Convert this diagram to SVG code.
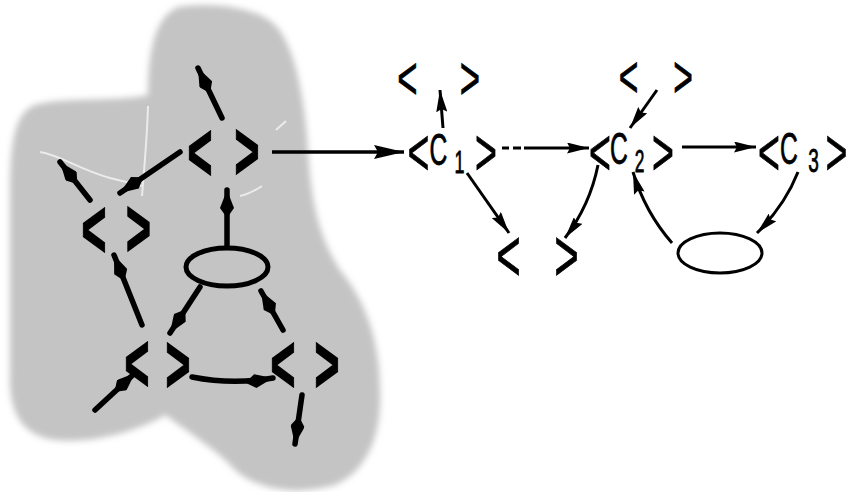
<svg xmlns="http://www.w3.org/2000/svg" width="857" height="492" viewBox="0 0 857 492">
<defs>
<style>
.lbl{font-family:"Liberation Sans",Arial,sans-serif;fill:#000;stroke:#000;stroke-width:0.8;text-anchor:middle}
.blb{font-weight:bold;stroke-width:1.6}
.c{stroke:#000;fill:none;stroke-width:3;marker-end:url(#ah)}
.cb{stroke:#000;fill:none;stroke-width:5.5;stroke-linecap:round;marker-end:url(#bh)}
.el{fill:none;stroke:#000}
.scr{fill:none;stroke:#f2f2f2;stroke-width:2;opacity:0.85}
</style>
<marker id="ah" viewBox="0 0 22 11" refX="22" refY="5.5" markerWidth="22" markerHeight="11" markerUnits="userSpaceOnUse" orient="auto"><path d="M0,0 L22,5.5 L0,11 L3,5.5 Z" fill="#000"/></marker>
<marker id="ahL" viewBox="0 0 30 14" refX="30" refY="7" markerWidth="30" markerHeight="14" markerUnits="userSpaceOnUse" orient="auto"><path d="M0,0 L30,7 L0,14 L4,7 Z" fill="#000"/></marker>
<marker id="bh" viewBox="0 0 28 14" refX="28" refY="7" markerWidth="28" markerHeight="14" markerUnits="userSpaceOnUse" orient="auto"><path d="M0,7 L10,0 L28,7 L10,14 Z" fill="#000"/></marker>
<filter id="soft" x="-10%" y="-10%" width="120%" height="120%"><feGaussianBlur stdDeviation="3"/></filter>
</defs>

<g id="blob">
<path filter="url(#soft)" fill="#c4c4c4" d="M178,7 C205,2 255,5 275,25 C295,45 305,100 308,150 C311,200 318,235 340,270 C365,300 380,340 380,390 C382,430 370,470 335,485 C300,495 260,492 235,470 C222,455 200,440 165,415 C150,425 100,445 55,440 C20,435 8,410 10,370 L10,200 C10,150 12,118 32,106 C60,96 120,102 148,95 C148,60 152,18 178,7 Z"/>
<path class="scr" d="M40,152 C60,155 80,170 110,178 C125,182 135,184 142,186"/>
<path class="scr" d="M148,106 C147,140 144,170 142,196"/>
<path class="scr" d="M240,196 C250,194 256,190 262,186"/>
<path class="scr" d="M276,130 L286,121"/>
</g>

<g id="connectors">
<!-- blob -->
<line class="cb" x1="222" y1="118" x2="198" y2="68"/>
<line class="cb" x1="180" y1="152" x2="120" y2="193"/>
<line class="cb" x1="90" y1="200" x2="60" y2="162"/>
<line class="cb" x1="142" y1="325" x2="114" y2="255"/>
<line class="cb" x1="227" y1="247" x2="227" y2="190"/>
<line class="cb" x1="200" y1="287" x2="170" y2="333"/>
<line class="cb" x1="283" y1="330" x2="261" y2="291"/>
<line class="cb" x1="95" y1="410" x2="135" y2="373"/>
<path class="cb" d="M192,377 Q232,385 273,378"/>
<line class="cb" x1="302" y1="395" x2="295" y2="444"/>
<!-- right -->
<line x1="272" y1="152" x2="404" y2="152" stroke="#000" stroke-width="3.5" marker-end="url(#ahL)"/>
<line class="c" x1="443" y1="128" x2="440" y2="90"/>
<line class="c" x1="467" y1="173" x2="509" y2="233"/>
<line class="c" x1="502" y1="148" x2="589" y2="148" stroke-dasharray="7 4 8 3 200"/>
<line class="c" x1="657" y1="90" x2="630" y2="128"/>
<path class="c" d="M598,165 Q590,205 565,238"/>
<line class="c" x1="682" y1="147" x2="756" y2="147"/>
<path class="c" d="M798,172 Q785,205 757,233"/>
<path class="c" d="M672,243 Q645,212 633,172"/>
</g>

<g id="b-top"><text class="lbl blb" transform="scale(0.52,1)"><tspan x="384.6" y="180" font-size="82">&lt;</tspan><tspan x="475" y="179" font-size="82">&gt;</tspan></text></g>
<g id="b-left"><text class="lbl blb" transform="scale(0.52,1)"><tspan x="180.8" y="257" font-size="82">&lt;</tspan><tspan x="266.3" y="256" font-size="82">&gt;</tspan></text></g>
<g id="b-bl"><text class="lbl blb" transform="scale(0.52,1)"><tspan x="263.5" y="391" font-size="82">&lt;</tspan><tspan x="342.3" y="392" font-size="82">&gt;</tspan></text></g>
<g id="b-br"><text class="lbl blb" transform="scale(0.52,1)"><tspan x="544.2" y="392" font-size="82">&lt;</tspan><tspan x="628.8" y="392" font-size="82">&gt;</tspan></text></g>
<g id="b-ellipse"><ellipse class="el" cx="227" cy="267" rx="41" ry="19" stroke-width="5"/></g>

<g id="c1"><text class="lbl" transform="scale(0.56,1)"><tspan x="747.3" y="175" font-size="67">&lt;</tspan><tspan x="783" y="165" font-size="44">C</tspan><tspan x="820.5" y="173" font-size="32">1</tspan><tspan x="867.9" y="175" font-size="67">&gt;</tspan></text></g>
<g id="c2"><text class="lbl" transform="scale(0.56,1)"><tspan x="1071.4" y="175" font-size="67">&lt;</tspan><tspan x="1105.4" y="164" font-size="44">C</tspan><tspan x="1142" y="172" font-size="31">2</tspan><tspan x="1183.9" y="175" font-size="67">&gt;</tspan></text></g>
<g id="c3"><text class="lbl" transform="scale(0.56,1)"><tspan x="1373.2" y="175" font-size="67">&lt;</tspan><tspan x="1408.9" y="164" font-size="44">C</tspan><tspan x="1452.7" y="172" font-size="34">3</tspan><tspan x="1493.8" y="175" font-size="67">&gt;</tspan></text></g>
<g id="r-top1"><text class="lbl" transform="scale(0.56,1)"><tspan x="727.7" y="99" font-size="62">&lt;</tspan><tspan x="839.3" y="99" font-size="62">&gt;</tspan></text></g>
<g id="r-top2"><text class="lbl" transform="scale(0.56,1)"><tspan x="1122.3" y="97" font-size="60">&lt;</tspan><tspan x="1219.6" y="97" font-size="60">&gt;</tspan></text></g>
<g id="r-bottom"><text class="lbl" transform="scale(0.56,1)"><tspan x="908" y="281" font-size="75">&lt;</tspan><tspan x="1011.6" y="281" font-size="75">&gt;</tspan></text></g>
<g id="r-ellipse"><ellipse class="el" cx="720" cy="253" rx="42" ry="20" stroke-width="3"/></g>
</svg>
